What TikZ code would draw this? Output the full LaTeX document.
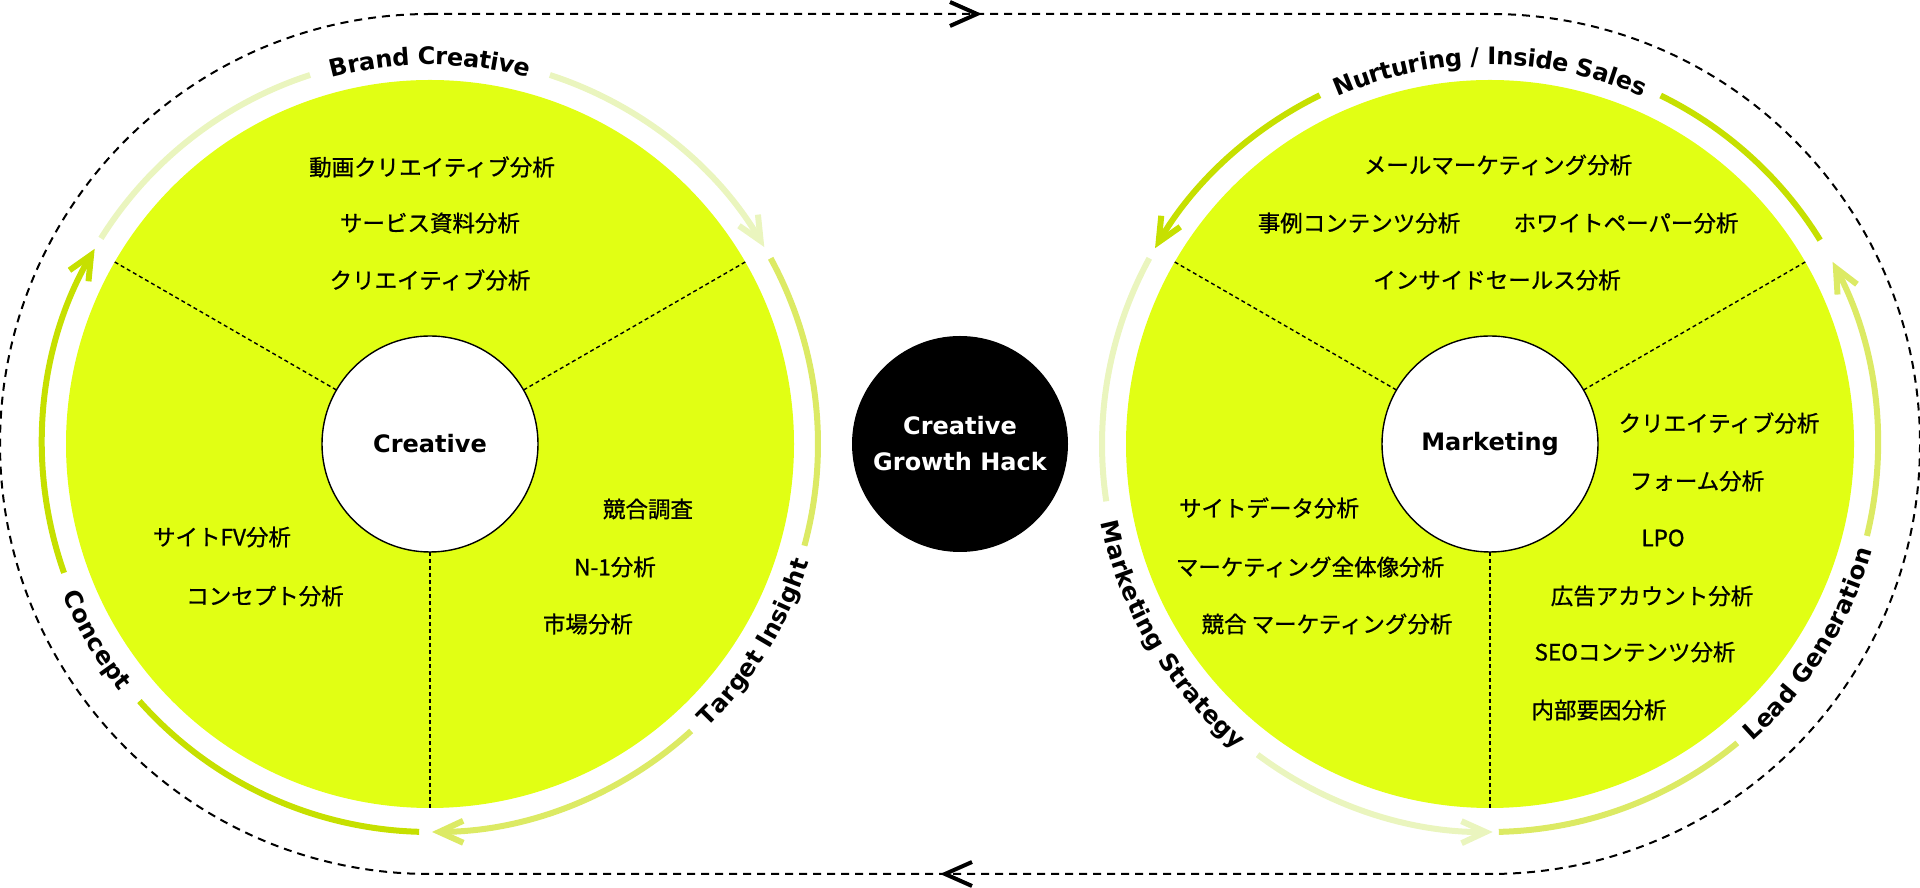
\documentclass[tikz,border=0pt]{standalone}
\usepackage{fontspec}
\setmainfont{DejaVu Sans}
\newfontfamily\jp{Noto Sans CJK JP}[FakeBold=0.8]
\usetikzlibrary{arrows.meta,decorations.text}
\definecolor{lime}{RGB}{225,255,20}
\definecolor{arcdark}{RGB}{198,224,0}
\definecolor{arcmid}{RGB}{220,234,100}
\definecolor{arclight}{RGB}{234,245,190}
\begin{document}
\begin{tikzpicture}[x=1pt,y=1pt,
 disc/.style={circle,fill=lime,minimum size=728pt,inner sep=0pt,outer sep=0pt},
 hub/.style={circle,draw=black,line width=1.4pt,fill=white,minimum size=216pt,inner sep=0pt,outer sep=0pt,font=\fontsize{24}{28}\selectfont\bfseries},
 core/.style={circle,fill=black,minimum size=216pt,inner sep=0pt,text=white,align=center,font=\fontsize{24}{36}\selectfont\bfseries},
 item/.style={inner sep=0pt,font=\jp\fontsize{22.5}{26}\selectfont},
 divider/.style={line width=1.4pt,dash pattern=on 4pt off 3pt},
 loopline/.style={line width=2pt,dash pattern=on 8pt off 6pt},
 chevron/.style={line width=4pt,miter limit=10},
 ringarc/.style={line width=6pt},
 flow/.style={ringarc,-{Straight Barb[length=24pt,width=22pt]}},
 arclabel/.style={decorate,decoration={text along path,text align=center,raise=-8.75pt,text={|\fontsize{24}{24}\selectfont\bfseries|#1}}},
]
\useasboundingbox (0,0) rectangle (1920,888);

% outer loop
\draw[loopline] (430,874) -- (1490,874) arc[start angle=90,end angle=-90,radius=430] -- (430,14) arc[start angle=270,end angle=90,radius=430] -- cycle;
\draw[chevron] (950,886) -- (977,874) -- (950,862);
\draw[chevron] (972,26) -- (945,14) -- (972,2);

% discs
\node[disc] (L) at (430,444) {};
\node[disc] (R) at (1490,444) {};
\node[hub] (hL) at (430,444) {Creative};
\node[hub] (hR) at (1490,444) {Marketing};
\node[core] (core) at (960,444) {Creative\\Growth Hack};

% dividers
\draw[divider] (hL.150) -- (L.150);
\draw[divider] (hL.30) -- (L.30);
\draw[divider] (hL.270) -- (L.270);
\draw[divider] (hR.150) -- (R.150);
\draw[divider] (hR.30) -- (R.30);
\draw[divider] (hR.270) -- (R.270);

% left ring (clockwise)
\draw[ringarc,arclight] (L.center) ++(148:388) arc[start angle=148,end angle=108,radius=388];
\draw[flow,arclight] (L.center) ++(72:388) arc[start angle=72,end angle=30.5,radius=388];
\draw[ringarc,arcmid] (L.center) ++(28.6:388) arc[start angle=28.6,end angle=-15.2,radius=388];
\draw[flow,arcmid] (L.center) ++(-47.7:388) arc[start angle=-47.7,end angle=-89.7,radius=388];
\draw[ringarc,arcdark] (L.center) ++(-91.6:388) arc[start angle=-91.6,end angle=-138.5,radius=388];
\draw[flow,arcdark] (L.center) ++(-160.6:388) arc[start angle=-160.6,end angle=-210.2,radius=388];
\path[arclabel={Brand Creative}] (L.center) ++(108:388) arc[start angle=108,end angle=72,radius=388];
\path[arclabel={Target Insight}] (L.center) ++(-47.7:388) arc[start angle=-47.7,end angle=-15.2,radius=388];
\path[arclabel={Concept}] (L.center) ++(199.4:388) arc[start angle=199.4,end angle=221.5,radius=388];

% right ring (counterclockwise)
\draw[ringarc,arcdark] (R.center) ++(31.7:388) arc[start angle=31.7,end angle=63.9,radius=388];
\draw[flow,arcdark] (R.center) ++(116:388) arc[start angle=116,end angle=149.7,radius=388];
\draw[ringarc,arclight] (R.center) ++(151.4:388) arc[start angle=151.4,end angle=188.5,radius=388];
\draw[flow,arclight] (R.center) ++(233.2:388) arc[start angle=233.2,end angle=270.4,radius=388];
\draw[ringarc,arcmid] (R.center) ++(271.3:388) arc[start angle=271.3,end angle=309.6,radius=388];
\draw[flow,arcmid] (R.center) ++(346.3:388) arc[start angle=346.3,end angle=388,radius=388];
\path[arclabel={Nurturing / Inside Sales}] (R.center) ++(116:388) arc[start angle=116,end angle=64,radius=388];
\path[arclabel={Marketing Strategy}] (R.center) ++(188.5:388) arc[start angle=188.5,end angle=233.2,radius=388];
\path[arclabel={Lead Generation}] (R.center) ++(309.6:388) arc[start angle=309.6,end angle=346.3,radius=388];

% left items
\node[item] (l1) at (432,721) {動画クリエイティブ分析};
\node[item] (l2) at (430,665) {サービス資料分析};
\node[item] (l3) at (430,608) {クリエイティブ分析};
\node[item] (l4) at (222,351) {サイトFV分析};
\node[item] (l5) at (265,292) {コンセプト分析};
\node[item] (l6) at (648,379) {競合調査};
\node[item] (l7) at (615,321) {N-1分析};
\node[item] (l8) at (588,264) {市場分析};

% right items
\node[item] (r1) at (1498,723) {メールマーケティング分析};
\node[item] (r2) at (1359,665) {事例コンテンツ分析};
\node[item] (r3) at (1626,665) {ホワイトペーパー分析};
\node[item] (r4) at (1497,608) {インサイドセールス分析};
\node[item] (r5) at (1719,465) {クリエイティブ分析};
\node[item] (r6) at (1697,407) {フォーム分析};
\node[item] (r7) at (1663,350) {LPO};
\node[item] (r8) at (1652,292) {広告アカウント分析};
\node[item] (r9) at (1635,236) {SEOコンテンツ分析};
\node[item] (r10) at (1599,178) {内部要因分析};
\node[item] (r11) at (1269,380) {サイトデータ分析};
\node[item] (r12) at (1310,321) {マーケティング全体像分析};
\node[item] (r13) at (1327,264) {競合 マーケティング分析};
\end{tikzpicture}
\end{document}
